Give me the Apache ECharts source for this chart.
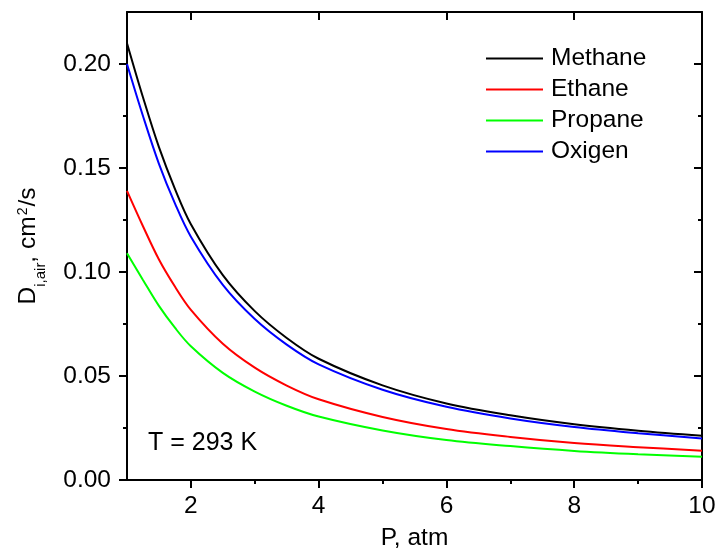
<!DOCTYPE html>
<html>
<head>
<meta charset="utf-8">
<script src="https://cdn.jsdelivr.net/npm/echarts@6/dist/echarts.min.js"></script>
<style>
  html, body { margin: 0; padding: 0; background: #fff; }
  #chart { width: 718px; height: 554px; }
</style>
</head>
<body>
<div id="chart"></div>
<script>
// Pressure, atm
const pressure = [1, 1.25, 1.5, 1.75, 2, 2.5, 3, 3.5, 4, 5, 6, 7, 8, 9, 10];

// Diffusion coefficient in air, cm^2/s, at T = 293 K
const methane = [0.210, 0.184, 0.160, 0.140, 0.123, 0.0985, 0.0812, 0.0683, 0.0583, 0.0455, 0.0368, 0.0311, 0.0268, 0.0237, 0.0213];
const ethane  = [0.139, 0.122, 0.106, 0.0930, 0.0818, 0.0655, 0.0540, 0.0454, 0.0388, 0.0303, 0.0245, 0.0207, 0.0178, 0.0158, 0.0141];
const propane = [0.109, 0.0962, 0.0837, 0.0732, 0.0643, 0.0515, 0.0425, 0.0357, 0.0305, 0.0238, 0.0192, 0.0163, 0.0140, 0.0124, 0.0112];
const oxigen  = [0.200, 0.175, 0.152, 0.133, 0.117, 0.0938, 0.0774, 0.0651, 0.0556, 0.0434, 0.0352, 0.0296, 0.0255, 0.0225, 0.0200];

const seriesNames = ['Methane', 'Ethane', 'Propane', 'Oxigen'];
const seriesData = [methane, ethane, propane, oxigen];
const seriesColors = ['#000000', '#ff0000', '#00ff00', '#0000ff'];

// Tick positions
const xMajor = [2, 4, 6, 8, 10];
const xMinor = [3, 5, 7, 9];
const yMajor = [0, 0.05, 0.10, 0.15, 0.20];
const yMinor = [0.025, 0.075, 0.125, 0.175];

const FONT = 'Liberation Sans, Arial, sans-serif';
const FS = 24.5;
const axisColor = '#000';

function tickAxis(kind, position, values, len, inside, extra) {
  const base = {
    type: 'value',
    position: position,
    min: kind === 'x' ? 1 : 0,
    max: kind === 'x' ? 10 : 0.225,
    axisLine: { show: false, lineStyle: { color: axisColor, width: 2 } },
    axisTick: { show: true, inside: inside, length: len, customValues: values,
                lineStyle: { color: axisColor, width: 2 } },
    axisLabel: { show: false },
    splitLine: { show: false },
    minorTick: { show: false }
  };
  return Object.assign(base, extra || {});
}

const chart = echarts.init(document.getElementById('chart'), null, { renderer: 'canvas' });

chart.setOption({
  backgroundColor: '#fff',
  animation: false,
  grid: { left: 127, top: 12, right: 16, bottom: 74, containLabel: false, outerBoundsMode: 'none' },
  legend: {
    orient: 'vertical',
    left: 486,
    top: 43,
    padding: 0,
    icon: 'rect',
    itemWidth: 57,
    itemHeight: 2,
    itemGap: 0,
    selectedMode: false,
    data: seriesNames,
    textStyle: { fontFamily: FONT, fontSize: FS, lineHeight: 31, color: '#000', padding: [0, 0, 0, 3] }
  },
  xAxis: [
    tickAxis('x', 'bottom', xMajor, 8, false, {
      axisLine: { show: true, onZero: false, lineStyle: { color: axisColor, width: 2 } },
      axisLabel: { show: true, customValues: xMajor, margin: 14, fontFamily: FONT, fontSize: FS, color: '#000' },
      name: 'P, atm',
      nameLocation: 'middle',
      nameGap: 46,
      nameTextStyle: { fontFamily: FONT, fontSize: FS, color: '#000' }
    }),
    tickAxis('x', 'bottom', xMinor, 4, false),
    tickAxis('x', 'top', xMajor, 8, true, {
      axisLine: { show: true, onZero: false, lineStyle: { color: axisColor, width: 2 } }
    }),
    tickAxis('x', 'top', xMinor, 4, true)
  ],
  yAxis: [
    tickAxis('y', 'left', yMajor, 8, false, {
      axisLine: { show: true, onZero: false, lineStyle: { color: axisColor, width: 2 } },
      axisLabel: { show: true, customValues: yMajor, margin: 16, fontFamily: FONT, fontSize: FS, color: '#000',
                   formatter: v => v.toFixed(2) },
      name: '{m|D}{s|i,air}{m|, cm}{p|2}{m|/s}',
      nameLocation: 'middle',
      nameGap: 79,
      nameRotate: 90,
      nameTextStyle: {
        fontFamily: FONT, fontSize: FS, color: '#000',
        rich: {
          m: { fontFamily: FONT, fontSize: FS, lineHeight: 40, color: '#000' },
          s: { fontFamily: FONT, fontSize: 15, lineHeight: 15, verticalAlign: 'bottom', color: '#000' },
          p: { fontFamily: FONT, fontSize: 14, lineHeight: 14, verticalAlign: 'top', padding: [8, 1, 0, 1], color: '#000' }
        }
      }
    }),
    tickAxis('y', 'left', yMinor, 4, false),
    tickAxis('y', 'right', yMajor, 8, true, {
      axisLine: { show: true, onZero: false, lineStyle: { color: axisColor, width: 2 } }
    }),
    tickAxis('y', 'right', yMinor, 4, true)
  ],
  graphic: [{
    type: 'text',
    left: 148,
    top: 431,
    style: { text: 'T = 293 K', fontFamily: FONT, fontSize: 25, fill: '#000' }
  }],
  series: seriesNames.map((name, i) => ({
    name: name,
    type: 'line',
    xAxisIndex: 0,
    yAxisIndex: 0,
    data: pressure.map((p, j) => [p, seriesData[i][j]]),
    symbol: 'none',
    smooth: 0.35,
    color: seriesColors[i],
    lineStyle: { color: seriesColors[i], width: 2 },
    itemStyle: { color: seriesColors[i] }
  }))
});
</script>
</body>
</html>
